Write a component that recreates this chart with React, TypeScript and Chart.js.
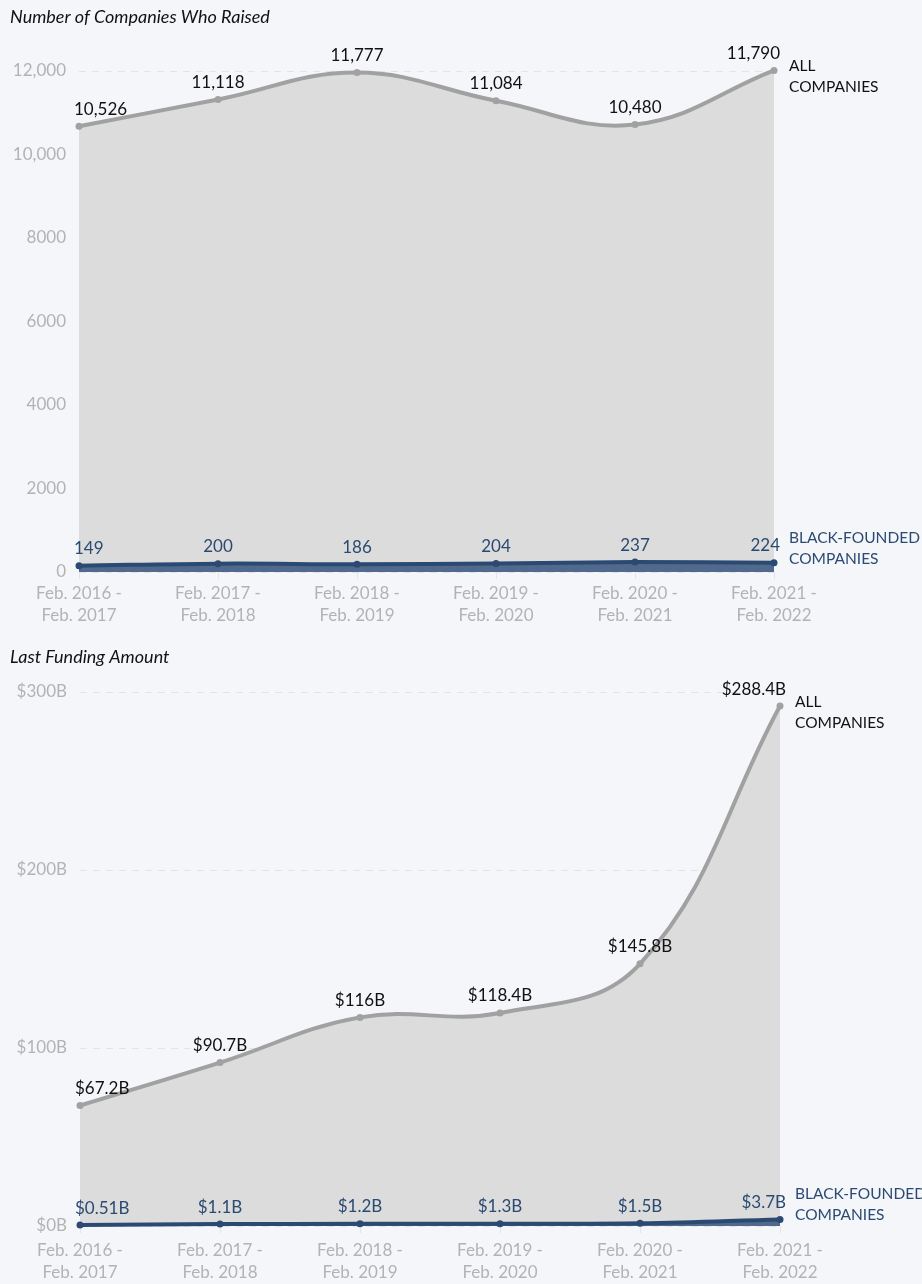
import React, { useEffect, useRef } from 'react';
import { Chart, registerables } from 'chart.js';

Chart.register(...registerables);

const periods: string[][] = [
  ['Feb. 2016 -', 'Feb. 2017'],
  ['Feb. 2017 -', 'Feb. 2018'],
  ['Feb. 2018 -', 'Feb. 2019'],
  ['Feb. 2019 -', 'Feb. 2020'],
  ['Feb. 2020 -', 'Feb. 2021'],
  ['Feb. 2021 -', 'Feb. 2022'],
];

const companiesAll = [10526, 11118, 11777, 11084, 10480, 11790];
const companiesBlack = [149, 200, 186, 204, 237, 224];
const companiesAllLabels = ['10,526', '11,118', '11,777', '11,084', '10,480', '11,790'];
const companiesBlackLabels = ['149', '200', '186', '204', '237', '224'];
const companiesTicks = ['0', '2000', '4000', '6000', '8000', '10,000', '12,000'];

const fundingAll = [67.2, 90.7, 116, 118.4, 145.8, 288.4];
const fundingBlack = [0.51, 1.1, 1.2, 1.3, 1.5, 3.7];
const fundingAllLabels = ['$67.2B', '$90.7B', '$116B', '$118.4B', '$145.8B', '$288.4B'];
const fundingBlackLabels = ['$0.51B', '$1.1B', '$1.2B', '$1.3B', '$1.5B', '$3.7B'];
const fundingTicks = ['$0B', '$100B', '$200B', '$300B'];

const allName = ['ALL', 'COMPANIES'];
const blackName = ['BLACK-FOUNDED', 'COMPANIES'];

const FONT = 'Lato, "Noto Sans", sans-serif';
const BG = '#f4f6fa';
const GRAY_LINE = '#a1a1a1';
const GRAY_FILL = '#dcdcdc';
const BLUE_LINE = '#2b4a72';
const BLUE_FILL = '#50698c';
const TICK_COLOR = '#b3b3b3';
const TEXT = '#111111';

type Props = {
  title: string;
  height: number;
  titleBottom: number;
  yWidth: number;
  padRight: number;
  xHeight: number;
  xPad: number;
  max: number;
  step: number;
  ticks: string[];
  all: number[];
  black: number[];
  allLabels: string[];
  blackLabels: string[];
};

function StackedChart(p: Props) {
  const ref = useRef<HTMLCanvasElement | null>(null);
  useEffect(() => {
    if (!ref.current) return;
    const labelPlugin = {
      id: 'pointLabels',
      afterDatasetsDraw(chart: any) {
        const ctx = chart.ctx;
        ctx.save();
        const sets = [
          { idx: 1, labels: p.allLabels, color: TEXT, name: allName, nameOff: [-4, 17] },
          { idx: 0, labels: p.blackLabels, color: BLUE_LINE, name: blackName, nameOff: [-25, -4] },
        ];
        sets.forEach((s) => {
          const meta = chart.getDatasetMeta(s.idx);
          ctx.fillStyle = s.color;
          ctx.font = '17px ' + FONT;
          ctx.textBaseline = 'middle';
          meta.data.forEach((pt: any, i: number) => {
            const n = meta.data.length;
            let x = pt.x;
            if (i === 0) {
              ctx.textAlign = 'left';
              x = pt.x - 5;
            } else if (i === n - 1) {
              ctx.textAlign = 'right';
              x = pt.x + 6;
            } else {
              ctx.textAlign = 'center';
            }
            ctx.fillText(s.labels[i], x, pt.y - 17);
          });
          const last = meta.data[meta.data.length - 1];
          ctx.font = '15.5px ' + FONT;
          ctx.textAlign = 'left';
          s.name.forEach((t, k) => {
            ctx.fillText(t, last.x + 15, last.y + s.nameOff[k]);
          });
        });
        ctx.restore();
      },
    };
    const chart = new Chart(ref.current, {
      type: 'line',
      data: {
        labels: periods,
        datasets: [
          {
            label: 'Black-founded companies',
            data: p.black,
            borderColor: BLUE_LINE,
            backgroundColor: BLUE_FILL,
            pointBackgroundColor: BLUE_LINE,
            pointBorderColor: BLUE_LINE,
            borderWidth: 4,
            pointRadius: 3.5,
            pointBorderWidth: 0,
            tension: 0.4,
            fill: 'origin',
            clip: false as any,
          },
          {
            label: 'All companies',
            data: p.all,
            borderColor: GRAY_LINE,
            backgroundColor: GRAY_FILL,
            pointBackgroundColor: GRAY_LINE,
            pointBorderColor: GRAY_LINE,
            borderWidth: 4,
            pointRadius: 3.5,
            pointBorderWidth: 0,
            tension: 0.4,
            fill: '-1',
            clip: false as any,
          },
        ],
      },
      options: {
        responsive: false,
        animation: false,
        layout: { padding: { left: 10, right: p.padRight, top: 0, bottom: 0 } },
        plugins: {
          legend: { display: false },
          tooltip: { enabled: false },
          title: {
            display: true,
            text: p.title,
            align: 'start',
            color: TEXT,
            font: { family: FONT, size: 18, style: 'italic', weight: 'normal', lineHeight: 1.2 },
            padding: { top: 6, bottom: p.titleBottom },
          },
        },
        scales: {
          x: {
            offset: false,
            grid: {
              display: true,
              drawOnChartArea: false,
              drawTicks: true,
              tickLength: 7,
              color: '#e3e5ea',
            },
            border: { display: false },
            ticks: {
              color: TICK_COLOR,
              font: { family: FONT, size: 17, lineHeight: 1.3 },
              padding: p.xPad,
              autoSkip: false,
              maxRotation: 0,
            },
            afterFit: (scale: any) => {
              scale.height = p.xHeight;
            },
          },
          y: {
            stacked: true,
            min: 0,
            max: p.max,
            grid: { color: '#e2e4e9', drawTicks: false, lineWidth: 1 },
            border: { display: false, dash: [7, 6] },
            ticks: {
              stepSize: p.step,
              color: TICK_COLOR,
              font: { family: FONT, size: 17 },
              padding: 13,
              callback: (_v: any, i: number) => p.ticks[i],
            },
            afterFit: (scale: any) => {
              scale.width = p.yWidth;
            },
          },
        },
      } as any,
      plugins: [labelPlugin],
    });
    return () => chart.destroy();
  }, []);
  return (
    <canvas
      ref={ref}
      width={922}
      height={p.height}
      style={{ display: 'block', width: 922, height: p.height }}
    />
  );
}

export default function App() {
  return (
    <div
      style={{
        position: 'absolute',
        left: 0,
        top: 0,
        width: 922,
        height: 1284,
        background: BG,
        overflow: 'hidden',
      }}
    >
      <StackedChart
        title="Number of Companies Who Raised"
        height={640}
        titleBottom={43.4}
        yWidth={69}
        padRight={148}
        xHeight={68}
        xPad={3}
        max={12000}
        step={2000}
        ticks={companiesTicks}
        all={companiesAll}
        black={companiesBlack}
        allLabels={companiesAllLabels}
        blackLabels={companiesBlackLabels}
      />
      <StackedChart
        title="Last Funding Amount"
        height={644}
        titleBottom={24.4}
        yWidth={70}
        padRight={142}
        xHeight={58}
        xPad={6}
        max={300}
        step={100}
        ticks={fundingTicks}
        all={fundingAll}
        black={fundingBlack}
        allLabels={fundingAllLabels}
        blackLabels={fundingBlackLabels}
      />
    </div>
  );
}
